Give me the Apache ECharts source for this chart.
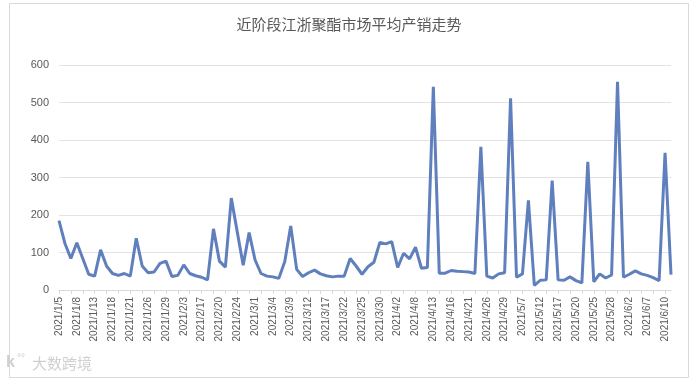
<!DOCTYPE html>
<html><head><meta charset="utf-8">
<script src="https://cdn.jsdelivr.net/npm/echarts@6/dist/echarts.min.js"></script>
<style>html,body{margin:0;padding:0;background:#fff;}#c{width:698px;height:380px;}</style>
</head><body><div id="c"></div>
<script>
var title = "近阶段江浙聚酯市场平均产销走势";
var categories = [
"2021/1/5","2021/1/6","2021/1/7","2021/1/8","2021/1/11","2021/1/12","2021/1/13","2021/1/14","2021/1/15","2021/1/18","2021/1/19","2021/1/20",
"2021/1/21","2021/1/22","2021/1/25","2021/1/26","2021/1/27","2021/1/28","2021/1/29","2021/2/1","2021/2/2","2021/2/3","2021/2/4","2021/2/5",
"2021/2/17","2021/2/18","2021/2/19","2021/2/20","2021/2/22","2021/2/23","2021/2/24","2021/2/25","2021/2/26","2021/3/1","2021/3/2","2021/3/3",
"2021/3/4","2021/3/5","2021/3/8","2021/3/9","2021/3/10","2021/3/11","2021/3/12","2021/3/15","2021/3/16","2021/3/17","2021/3/18","2021/3/19",
"2021/3/22","2021/3/23","2021/3/24","2021/3/25","2021/3/26","2021/3/29","2021/3/30","2021/3/31","2021/4/1","2021/4/2","2021/4/6","2021/4/7",
"2021/4/8","2021/4/9","2021/4/12","2021/4/13","2021/4/14","2021/4/15","2021/4/16","2021/4/19","2021/4/20","2021/4/21","2021/4/22","2021/4/23",
"2021/4/26","2021/4/27","2021/4/28","2021/4/29","2021/4/30","2021/5/6","2021/5/7","2021/5/10","2021/5/11","2021/5/12","2021/5/13","2021/5/14",
"2021/5/17","2021/5/18","2021/5/19","2021/5/20","2021/5/21","2021/5/24","2021/5/25","2021/5/26","2021/5/27","2021/5/28","2021/5/31","2021/6/1",
"2021/6/2","2021/6/3","2021/6/4","2021/6/7","2021/6/8","2021/6/9","2021/6/10","2021/6/11"];
var salesRatio = [
185,124,84,126,84,42,37,107,64,44,39,44,
37,138,64,46,48,71,77,36,39,67,44,38,
34,27,163,77,61,245,155,66,153,80,44,37,
35,31,76,171,55,36,46,53,43,38,35,37,
37,84,64,42,62,74,127,123,129,60,98,83,
114,58,60,542,45,45,52,50,49,48,44,382,
37,32,43,46,511,34,43,239,12,26,27,292,
27,26,35,25,19,342,22,43,32,40,555,34,
42,51,43,39,33,25,366,41];
var yTicks = {min: 0, max: 600, interval: 100};
var watermark = "大数跨境";

var chart = echarts.init(document.getElementById('c'), null, {renderer: 'canvas'});
chart.setOption({
  animation: false,
  backgroundColor: '#fff',
  title: {
    text: title, left: 'center', top: 12,
    textStyle: {fontFamily: 'Noto Sans CJK SC', fontSize: 15, fontWeight: 'normal', color: '#595959'}
  },
  grid: {left: 59, right: 27, top: 65, bottom: 90, containLabel: false},
  xAxis: {
    type: 'category', data: categories, boundaryGap: false,
    axisLine: {lineStyle: {color: '#d9d9d9'}},
    axisTick: {show: true, interval: 1, length: 4, lineStyle: {color: '#d9d9d9'}},
    axisLabel: {interval: 2, rotate: 90, fontSize: 10, color: '#595959', margin: 7, fontFamily: 'Liberation Sans'}
  },
  yAxis: {
    type: 'value', min: yTicks.min, max: yTicks.max, interval: yTicks.interval,
    axisLine: {show: false}, axisTick: {show: false},
    splitLine: {lineStyle: {color: '#e3e3e3', width: 1}},
    axisLabel: {fontSize: 11, color: '#595959', margin: 10, fontFamily: 'Liberation Sans'}
  },
  series: [{
    type: 'line', data: salesRatio, showSymbol: false, symbol: 'none',
    lineStyle: {color: '#5f7fbd', width: 3}
  }],
  graphic: [
    {type: 'rect', shape: {x: 9.5, y: 3.5, width: 679, height: 374}, style: {fill: 'none', stroke: '#d9d9d9', lineWidth: 1}, silent: true},
    {type: 'text', left: 32, top: 356, style: {text: watermark, fontSize: 15, fill: '#d0d0d0', fontFamily: 'Noto Sans CJK SC'}},
    {type: 'text', left: 6, top: 355, style: {text: 'k', fontSize: 16, fill: '#d0d0d0', fontFamily: 'Liberation Sans', fontWeight: 'bold'}},
    {type: 'text', left: 17, top: 353, style: {text: '°°', fontSize: 10, fill: '#d0d0d0', fontFamily: 'Liberation Sans'}}
  ]
});
</script>
</body></html>
